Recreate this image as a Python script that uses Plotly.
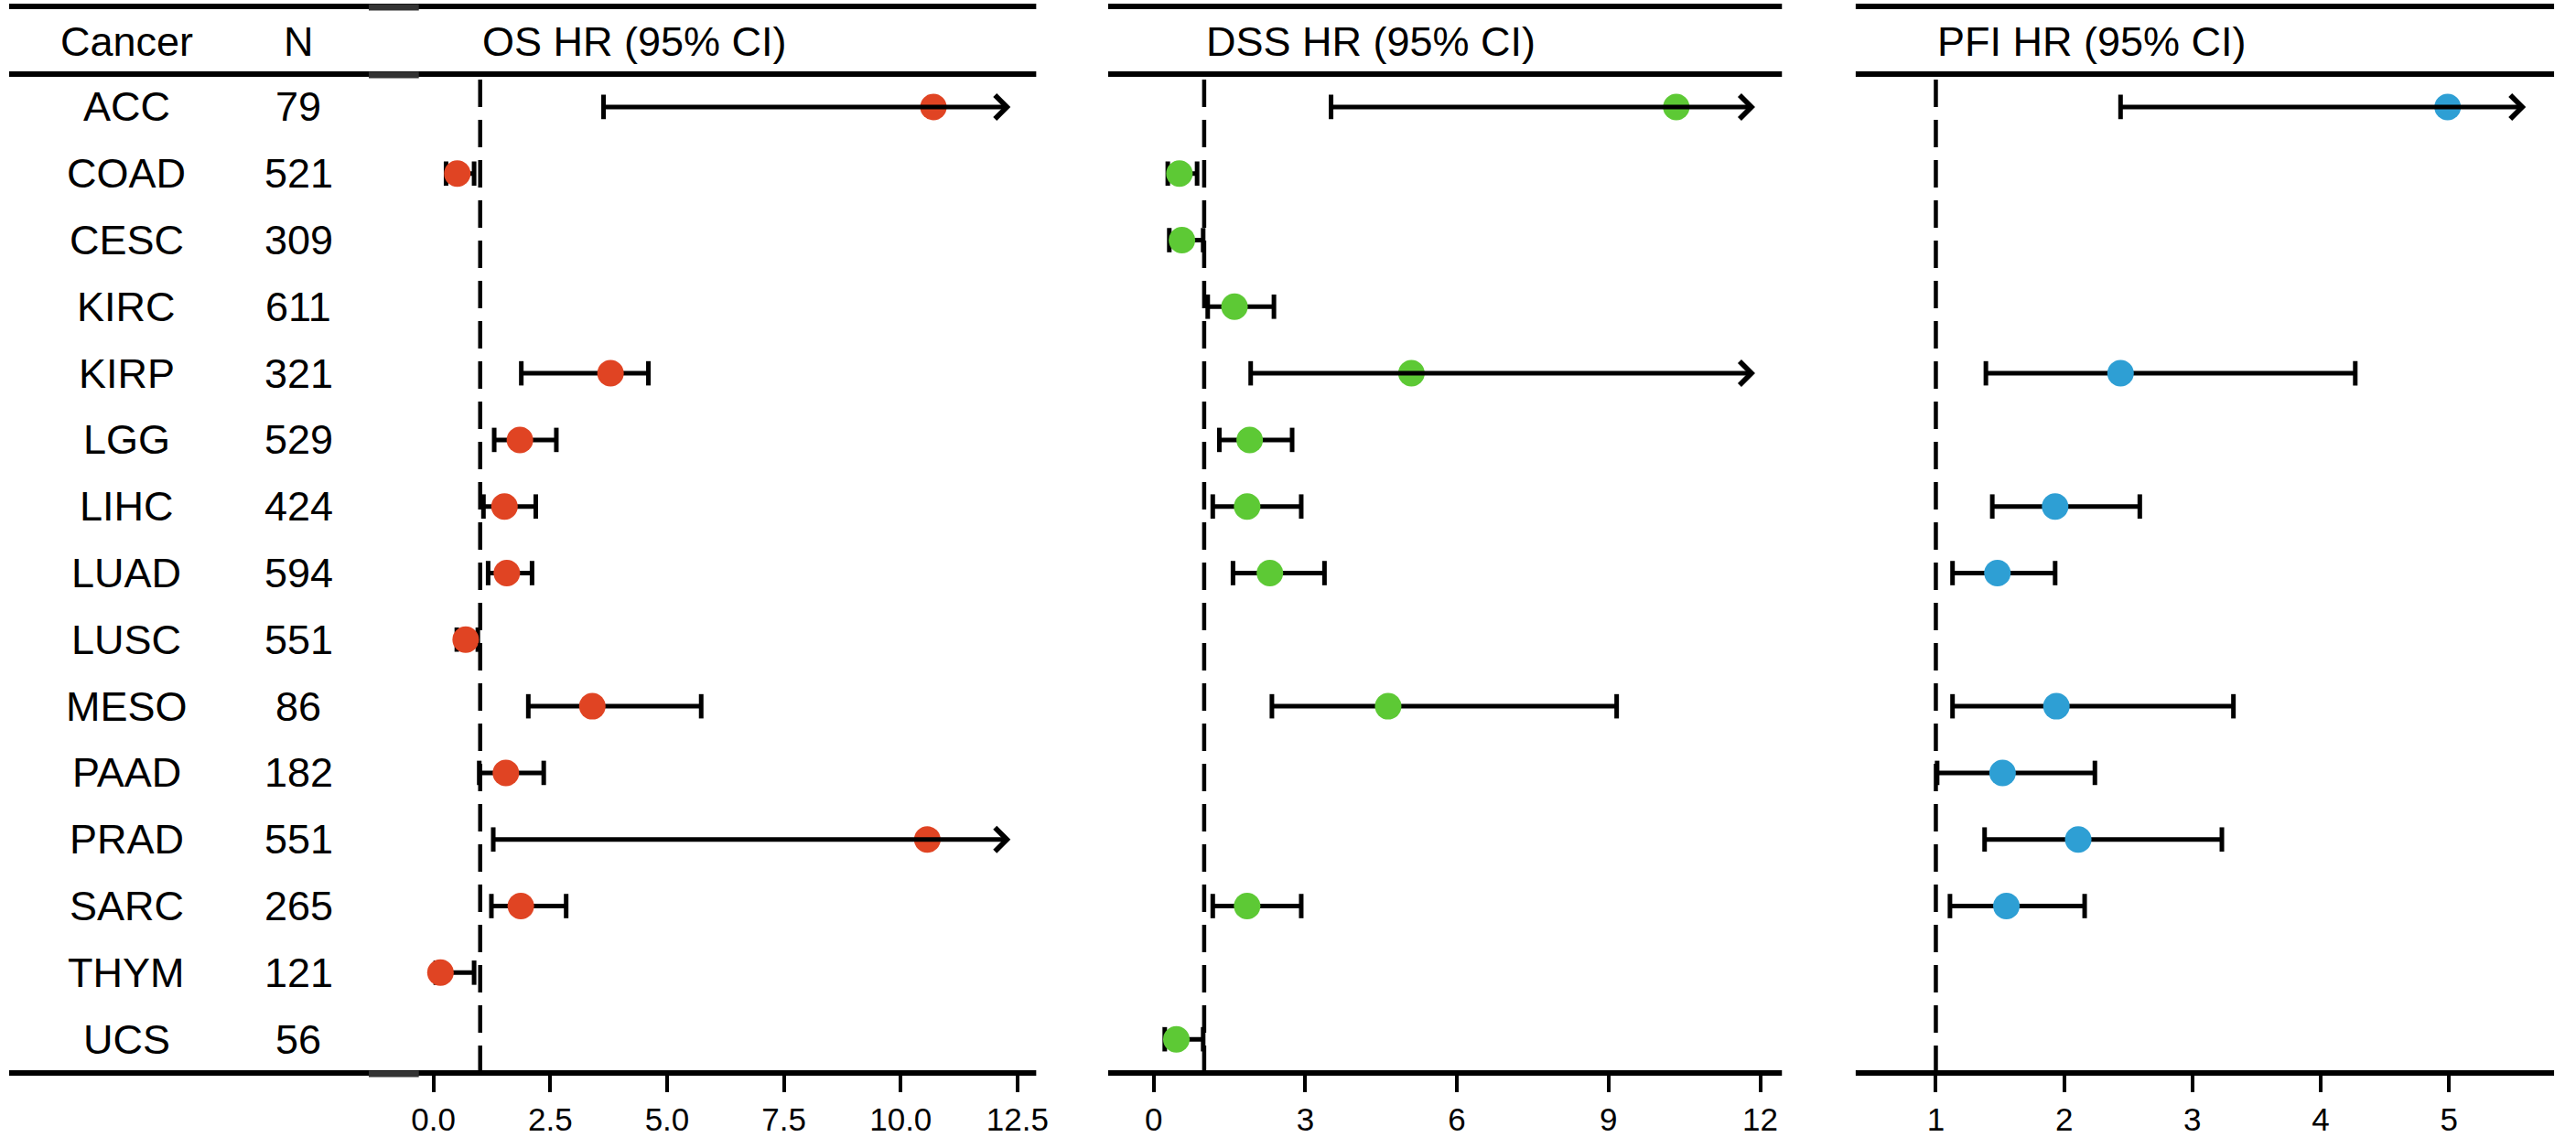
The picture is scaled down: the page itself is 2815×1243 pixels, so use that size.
import plotly.graph_objects as go

# forest plot, OS / DSS / PFI hazard ratios for each cancer type

cancers = ["ACC", "COAD", "CESC", "KIRC", "KIRP", "LGG", "LIHC", "LUAD",
           "LUSC", "MESO", "PAAD", "PRAD", "SARC", "THYM", "UCS"]
n_cases = [79, 521, 309, 611, 321, 529, 424, 594, 551, 86, 182, 551, 265, 121, 56]

# None = not shown; upper None with a value = CI runs past the axis (arrow)
os_hr = [10.7, 0.51, None, None, 3.79, 1.85, 1.52, 1.57, 0.69, 3.40, 1.55, 10.57, 1.87, 0.15, None]
os_lo = [3.64, 0.27, None, None, 1.88, 1.30, 1.07, 1.17, 0.50, 2.03, 0.98, 1.28, 1.24, 0.05, None]
os_hi = [None, 0.87, None, None, 4.60, 2.63, 2.19, 2.11, 0.95, 5.73, 2.36, None, 2.84, 0.87, None]

dss_hr = [10.34, 0.51, 0.56, 1.60, 5.10, 1.90, 1.85, 2.30, None, 4.64, None, None, 1.85, None, 0.45]
dss_lo = [3.51, 0.28, 0.31, 1.07, 1.92, 1.30, 1.17, 1.57, None, 2.34, None, None, 1.17, None, 0.22]
dss_hi = [None, 0.86, 0.98, 2.38, None, 2.74, 2.92, 3.38, None, 9.16, None, None, 2.92, None, 0.98]

pfi_hr = [4.99, None, None, None, 2.44, None, 1.93, 1.48, None, 1.94, 1.52, 2.11, 1.55, None, None]
pfi_lo = [2.44, None, None, None, 1.39, None, 1.44, 1.13, None, 1.13, 1.01, 1.38, 1.11, None, None]
pfi_hi = [None, None, None, None, 4.27, None, 2.59, 1.93, None, 3.32, 2.24, 3.23, 2.16, None, None]

W, H = 2815, 1243
FONT = "Liberation Sans, Arial, sans-serif"

def px(x):
    return x / W

def py(y):
    return 1 - y / H

panels = [
    dict(ax="x", name="OS HR (95% CI)", hr=os_hr, lo=os_lo, hi=os_hi, color="#E04423",
         dom=[420, 1138], rng=[-1.092, 12.90], tip=12.35,
         ticks=[0, 2.5, 5, 7.5, 10, 12.5], labels=["0.0", "2.5", "5.0", "7.5", "10.0", "12.5"],
         seg=[10, 1138]),
    dict(ax="x2", name="DSS HR (95% CI)", hr=dss_hr, lo=dss_lo, hi=dss_hi, color="#5DC935",
         dom=[1217, 1957], rng=[-0.90, 12.43], tip=11.9,
         ticks=[0, 3, 6, 9, 12], labels=["0", "3", "6", "9", "12"],
         seg=[1217, 1957]),
    dict(ax="x3", name="PFI HR (95% CI)", hr=pfi_hr, lo=pfi_lo, hi=pfi_hi, color="#2E9FD4",
         dom=[2038, 2805], rng=[0.375, 5.82], tip=5.6,
         ticks=[1, 2, 3, 4, 5], labels=["1", "2", "3", "4", "5"],
         seg=[2038, 2805]),
]

fig = go.Figure()
annotations = []
shapes = []

def label(x, y, text, xref="paper", yref="paper", xanchor="center"):
    return dict(x=x, y=y, xref=xref, yref=yref, text=text, showarrow=False,
                xanchor=xanchor, yanchor="middle",
                font=dict(family=FONT, size=45, color="black"))

for p in panels:
    line_x, line_y, cap_x, cap_y, pt_x, pt_y = [], [], [], [], [], []
    for i in range(len(cancers)):
        if p["hr"][i] is None:
            continue
        pt_x.append(p["hr"][i])
        pt_y.append(i)
        cap_x.append(p["lo"][i])
        cap_y.append(i)
        if p["hi"][i] is None:
            # CI goes off the axis -> arrow
            annotations.append(dict(x=p["tip"], y=i, ax=p["lo"][i], ay=i,
                                    xref=p["ax"], yref="y", axref=p["ax"], ayref="y",
                                    text="", showarrow=True, arrowhead=4, arrowsize=1.0,
                                    arrowwidth=5, arrowcolor="black"))
        else:
            line_x += [p["lo"][i], p["hi"][i], None]
            line_y += [i, i, None]
            cap_x.append(p["hi"][i])
            cap_y.append(i)
    fig.add_trace(go.Scatter(x=line_x, y=line_y, xaxis=p["ax"], yaxis="y", mode="lines",
                             line=dict(color="black", width=5), hoverinfo="skip", showlegend=False))
    fig.add_trace(go.Scatter(x=cap_x, y=cap_y, xaxis=p["ax"], yaxis="y", mode="markers",
                             marker=dict(symbol="line-ns", size=19,
                                         line=dict(color="black", width=5)),
                             hoverinfo="skip", showlegend=False))
    fig.add_trace(go.Scatter(x=pt_x, y=pt_y, xaxis=p["ax"], yaxis="y", mode="markers",
                             marker=dict(color=p["color"], size=29, line=dict(width=0)),
                             showlegend=False))

    # header text, starts at HR = 1
    annotations.append(label(1, py(46), p["name"], xref=p["ax"], xanchor="left"))
    # reference line at HR = 1
    shapes.append(dict(type="line", xref=p["ax"], yref="paper", x0=1, x1=1,
                       y0=py(1174), y1=py(81), line=dict(color="black", width=4.5, dash="30px,14px")))
    # table rules
    for yy in [7, 81, 1174]:
        shapes.append(dict(type="line", xref="paper", yref="paper",
                           x0=px(p["seg"][0]), x1=px(p["seg"][1]), y0=py(yy), y1=py(yy),
                           line=dict(color="black", width=6)))

# slightly heavier stubs where the table image was pasted in
for yy in [7, 81, 1174]:
    shapes.append(dict(type="line", xref="paper", yref="paper", x0=px(405), x1=px(460),
                       y0=py(yy + 1), y1=py(yy + 1), line=dict(color="#333333", width=7)))

# table columns
annotations.append(label(px(139), py(46), "Cancer"))
annotations.append(label(px(328), py(46), "N"))
for i, c in enumerate(cancers):
    annotations.append(label(px(139), i, c, yref="y"))
    annotations.append(label(px(328), i, str(n_cases[i]), yref="y"))

layout = dict(
    width=W, height=H, margin=dict(l=0, r=0, t=0, b=0),
    paper_bgcolor="white", plot_bgcolor="white",
    font=dict(family=FONT, color="black"),
    yaxis=dict(domain=[py(1174), py(81)], range=[14.507, -0.494], visible=False,
               showgrid=False, zeroline=False),
    annotations=annotations, shapes=shapes, showlegend=False,
)
for p in panels:
    key = "xaxis" if p["ax"] == "x" else "xaxis" + p["ax"][1:]
    layout[key] = dict(domain=[px(p["dom"][0]), px(p["dom"][1])], range=p["rng"], anchor="y",
                       showgrid=False, zeroline=False, showline=False,
                       ticks="outside", ticklen=20, tickwidth=4, tickcolor="black",
                       tickvals=p["ticks"], ticktext=p["labels"],
                       tickfont=dict(family=FONT, size=35, color="black"))

fig.update_layout(layout)
fig.write_html("out.html", config={"displayModeBar": False},
               post_script="document.body.style.margin='0';")
